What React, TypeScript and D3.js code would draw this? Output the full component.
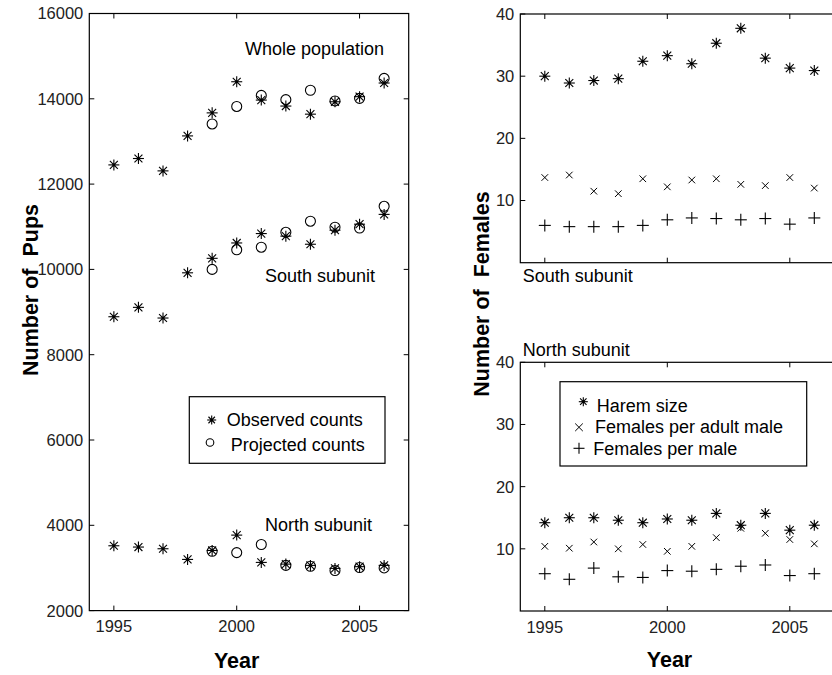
import React from "react";
import * as d3 from "d3";

const years = [1995, 1996, 1997, 1998, 1999, 2000, 2001, 2002, 2003, 2004, 2005, 2006];
const projYears = [1999, 2000, 2001, 2002, 2003, 2004, 2005, 2006];

const wholeObs = [12450, 12600, 12310, 13130, 13670, 14400, 13970, 13830, 13640, 13930, 14050, 14370];
const wholeProj = [13410, 13820, 14080, 13980, 14200, 13950, 14010, 14480];
const southObs = [8890, 9110, 8860, 9920, 10260, 10620, 10840, 10780, 10590, 10920, 11060, 11290];
const southProj = [10000, 10460, 10520, 10870, 11130, 10990, 10970, 11480];
const northObs = [3520, 3490, 3450, 3200, 3410, 3770, 3130, 3090, 3060, 2990, 3030, 3060];
const northProj = [3390, 3360, 3550, 3060, 3040, 2940, 3010, 3000];

const southHarem = [30.0, 28.9, 29.3, 29.6, 32.4, 33.3, 32.0, 35.3, 37.7, 32.9, 31.3, 30.9];
const southAdult = [13.7, 14.1, 11.5, 11.1, 13.5, 12.2, 13.3, 13.5, 12.6, 12.4, 13.7, 12.0];
const southPerMale = [6.0, 5.8, 5.8, 5.8, 6.0, 6.9, 7.2, 7.1, 6.9, 7.1, 6.2, 7.2];
const northHarem = [14.2, 15.0, 15.0, 14.6, 14.2, 14.8, 14.6, 15.7, 13.8, 15.7, 13.0, 13.8];
const northAdult = [10.4, 10.1, 11.1, 10.0, 10.7, 9.6, 10.4, 11.8, 13.3, 12.5, 11.5, 10.8];
const northPerMale = [6.0, 5.1, 6.9, 5.5, 5.4, 6.5, 6.4, 6.7, 7.2, 7.4, 5.7, 6.0];

const xTicks = [1995, 2000, 2005];
const pupTicks = [2000, 4000, 6000, 8000, 10000, 12000, 14000, 16000];
const femTicks = [10, 20, 30, 40];

const FONT = "'Liberation Sans', Arial, Helvetica, sans-serif";

function Star({ x, y, s = 5.5 }: { x: number; y: number; s?: number }) {
  const d = s * 0.72;
  return (
    <g stroke="#000" strokeWidth={1.1}>
      <line x1={x - s} y1={y} x2={x + s} y2={y} />
      <line x1={x} y1={y - s} x2={x} y2={y + s} />
      <line x1={x - d} y1={y - d} x2={x + d} y2={y + d} />
      <line x1={x - d} y1={y + d} x2={x + d} y2={y - d} />
      <circle cx={x} cy={y} r={1.6} fill="#000" stroke="none" />
    </g>
  );
}
function Circ({ x, y, r = 5 }: { x: number; y: number; r?: number }) {
  return <circle cx={x} cy={y} r={r} fill="none" stroke="#000" strokeWidth={1.1} />;
}
function XMark({ x, y, s = 3.3 }: { x: number; y: number; s?: number }) {
  return (
    <g stroke="#000" strokeWidth={1}>
      <line x1={x - s} y1={y - s} x2={x + s} y2={y + s} />
      <line x1={x - s} y1={y + s} x2={x + s} y2={y - s} />
    </g>
  );
}
function Plus({ x, y, s = 6 }: { x: number; y: number; s?: number }) {
  return (
    <g stroke="#000" strokeWidth={1.1}>
      <line x1={x - s} y1={y} x2={x + s} y2={y} />
      <line x1={x} y1={y - s} x2={x} y2={y + s} />
    </g>
  );
}

function Frame({
  x,
  y,
  yTicks,
  showYears,
}: {
  x: d3.ScaleLinear<number, number>;
  y: d3.ScaleLinear<number, number>;
  yTicks: number[];
  showYears: boolean;
}) {
  const [x0, x1] = x.range();
  const [y1, y0] = y.range();
  const t = 5;
  return (
    <g>
      <rect x={x0} y={y0} width={x1 - x0} height={y1 - y0} fill="none" stroke="#000" strokeWidth={1.2} />
      {xTicks.map((v) => (
        <g key={"xt" + v} stroke="#000" strokeWidth={1}>
          <line x1={x(v)} x2={x(v)} y1={y1} y2={y1 - t} />
          <line x1={x(v)} x2={x(v)} y1={y0} y2={y0 + t} />
        </g>
      ))}
      {yTicks.map((v) => (
        <g key={"yt" + v}>
          <line x1={x0} x2={x0 + t} y1={y(v)} y2={y(v)} stroke="#000" />
          <line x1={x1} x2={x1 - t} y1={y(v)} y2={y(v)} stroke="#000" />
          <text x={x0 - 6} y={y(v)} dy="0.36em" textAnchor="end" fontSize={16.5} fontFamily={FONT} fill="#222">
            {v}
          </text>
        </g>
      ))}
      {showYears &&
        xTicks.map((v) => (
          <text key={"xl" + v} x={x(v)} y={y1 + 21.5} textAnchor="middle" fontSize={16.5} fontFamily={FONT} fill="#222">
            {v}
          </text>
        ))}
    </g>
  );
}

export default function App() {
  const xL = d3.scaleLinear().domain([1994, 2007]).range([89.3, 408.7]);
  const yL = d3.scaleLinear().domain([2000, 16000]).range([610.6, 13.5]);
  const xR = d3.scaleLinear().domain([1994, 2007]).range([520.3, 838.8]);
  const yRT = d3.scaleLinear().domain([0, 40]).range([262.7, 14]);
  const yRB = d3.scaleLinear().domain([0, 40]).range([611, 362.3]);

  const txt = { fontFamily: FONT, fontSize: 18, fill: "#000" } as const;
  const lbl = { fontFamily: FONT, fontSize: 21.5, fontWeight: "bold" as const, fill: "#000" };

  return (
    <svg width={832} height={675} style={{ position: "absolute", left: 0, top: 0, background: "#fff" }}>
      <rect width={832} height={675} fill="#fff" />
      {/* Left panel */}
      <Frame x={xL} y={yL} yTicks={pupTicks} showYears={true} />
      {[
        [wholeObs, wholeProj],
        [southObs, southProj],
        [northObs, northProj],
      ].map(([obs, proj], k) => (
        <g key={"grp" + k}>
          {proj.map((v, i) => (
            <Circ key={"p" + i} x={xL(projYears[i])} y={yL(v)} />
          ))}
          {obs.map((v, i) => (
            <Star key={"o" + i} x={xL(years[i])} y={yL(v)} />
          ))}
        </g>
      ))}
      <text x={245} y={55} {...txt}>Whole population</text>
      <text x={265} y={281.5} {...txt}>South subunit</text>
      <text x={265} y={530.5} {...txt}>North subunit</text>
      <rect x={189.3} y={396.7} width={195.7} height={66.6} fill="#fff" stroke="#000" strokeWidth={1.2} />
      <Star x={211.7} y={420} s={4.5} />
      <Circ x={210} y={442.5} r={3.8} />
      <text x={226.7} y={426} {...txt}>Observed counts</text>
      <text x={230.7} y={450.5} {...txt}>Projected counts</text>
      <text x={236.7} y={668} textAnchor="middle" {...lbl}>Year</text>
      <text transform={`translate(37.5,290) rotate(-90)`} textAnchor="middle" {...lbl}>{"Number of\u00a0 Pups"}</text>

      {/* Right top panel */}
      <Frame x={xR} y={yRT} yTicks={femTicks} showYears={false} />
      {southPerMale.map((v, i) => (
        <Plus key={"sp" + i} x={xR(years[i])} y={yRT(v)} />
      ))}
      {southAdult.map((v, i) => (
        <XMark key={"sa" + i} x={xR(years[i])} y={yRT(v)} />
      ))}
      {southHarem.map((v, i) => (
        <Star key={"sh" + i} x={xR(years[i])} y={yRT(v)} />
      ))}
      <text x={522.7} y={282} {...txt}>South subunit</text>

      {/* Right bottom panel */}
      <Frame x={xR} y={yRB} yTicks={femTicks} showYears={true} />
      {northPerMale.map((v, i) => (
        <Plus key={"np" + i} x={xR(years[i])} y={yRB(v)} />
      ))}
      {northAdult.map((v, i) => (
        <XMark key={"na" + i} x={xR(years[i])} y={yRB(v)} />
      ))}
      {northHarem.map((v, i) => (
        <Star key={"nh" + i} x={xR(years[i])} y={yRB(v)} />
      ))}
      <text x={522.7} y={356} {...txt}>North subunit</text>
      <rect x={560} y={381.7} width={246.7} height={84.3} fill="#fff" stroke="#000" strokeWidth={1.2} />
      <Star x={583.3} y={401.7} s={4.5} />
      <XMark x={579} y={427.3} s={3.8} />
      <Plus x={579} y={448.3} s={5.5} />
      <text x={596.7} y={411.7} {...txt}>Harem size</text>
      <text x={595} y={433.3} {...txt}>Females per adult male</text>
      <text x={593.3} y={455} {...txt}>Females per male</text>
      <text x={669.5} y={667} textAnchor="middle" {...lbl}>Year</text>
      <text transform={`translate(488.5,294) rotate(-90)`} textAnchor="middle" {...lbl}>{"Number of\u00a0 Females"}</text>
    </svg>
  );
}
